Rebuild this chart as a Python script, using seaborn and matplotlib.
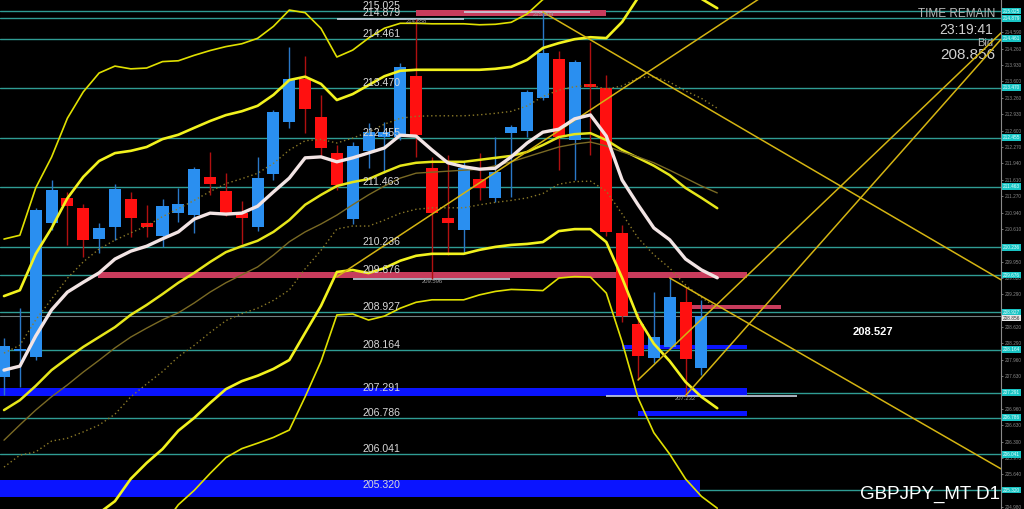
import numpy as np
import pandas as pd
import matplotlib
matplotlib.use("Agg")
import matplotlib.pyplot as plt
import seaborn as sns

# GBPJPY daily bars, oldest first (last one is today's forming bar)
opens = [207.610, 208.137, 208.016, 210.730, 211.237, 211.034, 210.406, 210.649, 211.216, 210.730,
         210.467, 210.933, 210.892, 211.662, 211.379, 210.933, 210.649, 211.723, 212.776, 213.648,
         212.878, 212.148, 210.811, 212.189, 212.473, 212.473, 213.708, 211.844, 210.832, 210.588,
         211.622, 211.237, 212.554, 212.594, 213.263, 214.053, 212.412, 213.546, 213.465, 210.528,
         208.684, 207.995, 208.218, 209.130, 207.793]
highs = [208.400, 209.008, 211.034, 211.601, 211.358, 211.115, 210.730, 211.520, 211.358, 211.095,
         211.216, 211.439, 211.865, 212.169, 211.743, 211.176, 212.067, 213.020, 214.296, 214.113,
         213.323, 212.310, 212.371, 212.756, 212.776, 213.972, 214.858, 212.067, 212.108, 211.966,
         212.148, 212.473, 212.716, 213.425, 215.004, 214.215, 214.032, 214.397, 213.729, 210.690,
         208.907, 209.332, 209.616, 209.434, 209.170]
lows = [207.246, 207.408, 207.955, 210.588, 210.285, 210.041, 210.122, 210.386, 210.447, 210.447,
        210.244, 210.751, 210.528, 211.297, 210.872, 210.305, 210.568, 211.601, 212.655, 212.554,
        212.067, 211.399, 210.710, 211.844, 211.743, 212.412, 212.067, 209.596, 210.082, 210.122,
        211.196, 211.156, 211.257, 212.473, 213.222, 211.804, 211.601, 212.108, 210.467, 208.725,
        207.550, 207.894, 208.157, 207.232, 207.651]
closes = [208.238, 208.178, 210.994, 211.399, 211.075, 210.386, 210.629, 211.419, 210.832, 210.649,
          211.075, 211.115, 211.824, 211.520, 210.933, 210.832, 211.642, 212.979, 213.648, 213.040,
          212.250, 211.500, 212.290, 212.574, 212.574, 213.891, 212.513, 210.933, 210.730, 211.844,
          211.439, 211.763, 212.675, 213.384, 214.174, 212.473, 213.992, 213.485, 210.548, 208.846,
          208.036, 208.421, 209.231, 207.975, 208.856]

# indicator values (one more point than bars, drawn one bar ahead)
ma_fast = [207.75, 207.83, 208.44, 208.97, 209.33, 209.53, 209.72, 210.00, 210.16, 210.26,
           210.41, 210.55, 210.81, 210.93, 210.91, 210.93, 211.07, 211.36, 211.64, 212.05,
           212.07, 211.97, 212.05, 212.15, 212.25, 212.51, 212.49, 212.21, 211.95, 211.87,
           211.82, 211.84, 212.07, 212.35, 212.57, 212.63, 212.84, 212.92, 212.49, 211.60,
           211.10, 210.63, 210.39, 210.00, 209.78, 209.62]
bb_mid = [206.94, 207.14, 207.43, 207.75, 207.99, 208.22, 208.42, 208.62, 208.87, 209.07,
          209.29, 209.52, 209.72, 209.94, 210.14, 210.26, 210.37, 210.55, 210.79, 211.10,
          211.30, 211.48, 211.56, 211.62, 211.76, 211.89, 211.95, 211.97, 211.97, 211.97,
          212.01, 212.05, 212.09, 212.17, 212.31, 212.47, 212.53, 212.55, 212.41, 212.21,
          212.05, 211.89, 211.70, 211.44, 211.24, 211.03]
bb_sigma = [1.155, 1.114, 1.337, 1.438, 1.621, 1.722, 1.783, 1.763, 1.661, 1.600,
            1.570, 1.499, 1.469, 1.428, 1.388, 1.367, 1.367, 1.388, 1.418, 1.297,
            1.124, 0.871, 0.891, 0.952, 0.972, 0.962, 0.942, 0.932, 0.932, 0.932,
            0.912, 0.902, 0.902, 0.932, 0.983, 0.952, 0.962, 0.972, 1.033, 1.297,
            1.621, 1.803, 1.884, 1.965, 2.016, 2.026]
ma_slow = [206.33, 206.64, 206.94, 207.21, 207.45, 207.71, 207.95, 208.20, 208.42, 208.60,
           208.77, 208.91, 209.11, 209.33, 209.52, 209.68, 209.84, 210.08, 210.35, 210.55,
           210.71, 210.89, 211.10, 211.30, 211.48, 211.64, 211.74, 211.76, 211.78, 211.80,
           211.82, 211.89, 211.97, 212.07, 212.17, 212.27, 212.33, 212.37, 212.29, 212.17,
           212.07, 211.95, 211.80, 211.64, 211.48, 211.34]

# horizontal levels drawn on the chart
levels = [215.025, 214.879, 214.461, 213.470, 212.455, 211.463, 210.236, 209.676,
          208.927, 208.164, 207.291, 206.786, 206.041, 205.320]
price_scale = [214.590, 214.260, 213.930, 213.600, 213.260, 212.930, 212.600, 212.270,
               211.940, 211.610, 211.270, 210.940, 210.610, 209.950, 209.620, 209.290,
               208.620, 208.290, 207.960, 207.630, 206.960, 206.630, 206.300, 205.970,
               205.640, 204.980]
bid = 208.856

# zones: (first bar, last bar, low price, high price)
blue_zones = [(-0.3, 46.9, 207.226, 207.387), (-0.3, 43.9, 205.179, 205.524),
              (39.0, 46.9, 208.178, 208.258), (40.0, 46.9, 206.820, 206.920)]
red_zones = [(5.9, 46.9, 209.616, 209.737), (26.0, 38.0, 214.924, 215.045),
             (43.3, 49.0, 208.990, 209.070)]
# marked highs / lows: (first bar, last bar, price, label bar)
marks = [(21.0, 29.0, 214.858, 26), (29.0, 37.0, 215.004, 34),
         (22.0, 31.9, 209.596, 27), (38.0, 50.0, 207.232, 43)]
# trend lines: (bar, price) -> (bar, price)
trend_lines = [((34, 215.004), (62.9, 209.58)),
               ((42, 209.616), (62.9, 205.75)),
               ((40, 207.550), (62.9, 214.58)),
               ((43, 207.232), (62.9, 214.45)),
               ((21, 209.64), (50.0, 215.77))]

sns.set_style("dark", {"axes.facecolor": "black", "figure.facecolor": "black"})
plt.rcParams['font.family'] = ['Liberation Sans', 'DejaVu Sans']

fig = plt.figure(figsize=(10.24, 5.09), dpi=100)
ax = fig.add_axes([0, 0, 1001 / 1024, 1])
ax.set_facecolor("black")

n_bars = len(opens)
bars = pd.DataFrame({"open": opens, "high": highs, "low": lows, "close": closes})
bars["idx"] = np.arange(n_bars)
ind = pd.DataFrame({"idx": np.arange(len(bb_mid)), "mid": bb_mid, "sig": bb_sigma,
                    "fast": ma_fast, "slow": ma_slow})
mid = np.array(bb_mid)
sig = np.array(bb_sigma)

# levels
for lv in levels:
    ax.axhline(lv, color="#2f9c94", lw=1, zorder=1)
    ax.text(22.6, lv, f"{lv:.3f}", color="#d8d8d8", fontsize=7.6, va="bottom", ha="left", zorder=6)
ax.axhline(bid, color="#6f7f7f", lw=0.8, zorder=1)

# zones
for x0, x1, lo, hi in blue_zones:
    ax.fill_between([x0, x1], lo, hi, color="#0a14ff", lw=0, zorder=2)
for x0, x1, lo, hi in red_zones:
    ax.fill_between([x0, x1], lo, hi, color="#c83c5c", lw=0, zorder=2)
for x0, x1, p, lab in marks:
    ax.hlines(p, x0, x1, color="#c8d2e0", lw=1.2, zorder=3)
    ax.text(lab, p, f"{p:.3f}", color="#a0a0a0", fontsize=4.2, ha="center", va="top", zorder=6)

# bollinger bands
for k, lw, col in [(3, 1.2, "#e0e000"), (2, 1.9, "#f2f21e"), (-2, 1.9, "#f2f21e"), (-3, 1.2, "#e0e000")]:
    sns.lineplot(x=ind["idx"], y=mid + k * sig, ax=ax, color=col, lw=lw, zorder=4)
sns.lineplot(data=ind, x="idx", y="mid", ax=ax, color="#e6e61a", lw=1.8, zorder=4)
for k in (1, -1):
    ax.plot(ind["idx"], mid + k * sig, color="#8c7a28", lw=1, ls=(0, (1, 2)), zorder=4)
sns.lineplot(data=ind, x="idx", y="slow", ax=ax, color="#7a6a24", lw=1, zorder=4)
sns.lineplot(data=ind, x="idx", y="fast", ax=ax, color="#f2e4e4", lw=2.4, zorder=5)

# trend lines
for (xa, pa), (xb, pb) in trend_lines:
    ax.plot([xa, xb], [pa, pb], color="#d4b412", lw=1.1, zorder=4)

# candles
up = bars["close"] >= bars["open"]
colors = np.where(up, "#2a8ff0", "#ff1010")
wick_colors = np.where(up, "#2a78c8", "#b01010")
ax.vlines(bars["idx"], bars["low"], bars["high"], colors=wick_colors, lw=1, zorder=3)
body_lo = np.minimum(bars["open"], bars["close"])
body_h = np.maximum((bars["close"] - bars["open"]).abs(), 0.03)
ax.bar(bars["idx"], body_h, bottom=body_lo, width=0.76, color=colors, lw=0, zorder=3)

ax.set_xlim(-4 / 15.85, (1001 - 4) / 15.85)
ax.set_ylim(204.936, 215.248)
ax.set_xlabel("")
ax.set_ylabel("")
ax.set_xticks([])
ax.yaxis.tick_right()
ax.set_yticks(price_scale)
ax.set_yticklabels([f"{p:.3f}" for p in price_scale])
ax.tick_params(axis="y", colors="#8a8a8a", labelsize=3.4, length=1.5, width=0.6, pad=1)
for s in ("top", "left", "bottom"):
    ax.spines[s].set_visible(False)
ax.spines["right"].set_color("#8a8a8a")
ax.spines["right"].set_linewidth(0.8)
ax.grid(False)
if ax.get_legend():
    ax.get_legend().remove()

# price boxes on the scale
ytr = ax.get_yaxis_transform()
for lv in levels:
    ax.text(1.002, lv, f"{lv:.3f}", transform=ytr, fontsize=3.4, color="#e6ffff", va="center", ha="left",
            clip_on=False, bbox=dict(boxstyle="square,pad=0.2", fc="#18c4c4", ec="none"), zorder=7)
ax.text(1.002, bid, f"{bid:.3f}", transform=ytr, fontsize=3.4, color="#303030", va="top", ha="left",
        clip_on=False, bbox=dict(boxstyle="square,pad=0.2", fc="#e8e8e8", ec="none"), zorder=7)

# info texts
ax.text(0.994, 0.985, "TIME REMAIN", transform=ax.transAxes, color="#b8b8b8", fontsize=8.5, ha="right", va="top")
ax.text(0.992, 0.955, "23:19:41", transform=ax.transAxes, color="#d0d0d0", fontsize=10, ha="right", va="top")
ax.text(0.992, 0.925, "Bid", transform=ax.transAxes, color="#b8b8b8", fontsize=8, ha="right", va="top")
ax.text(0.994, 0.905, f"{bid:.3f}", transform=ax.transAxes, color="#d0d0d0", fontsize=11, ha="right", va="top")
ax.text(54.8, 208.527, "208.527", color="white", fontsize=8, fontweight="bold", ha="center", va="center")
ax.text(0.999, 0.012, "GBPJPY_MT D1", transform=ax.transAxes, color="white", fontsize=13.5, ha="right", va="bottom")

fig.savefig("out.png", dpi=100, facecolor="black")
